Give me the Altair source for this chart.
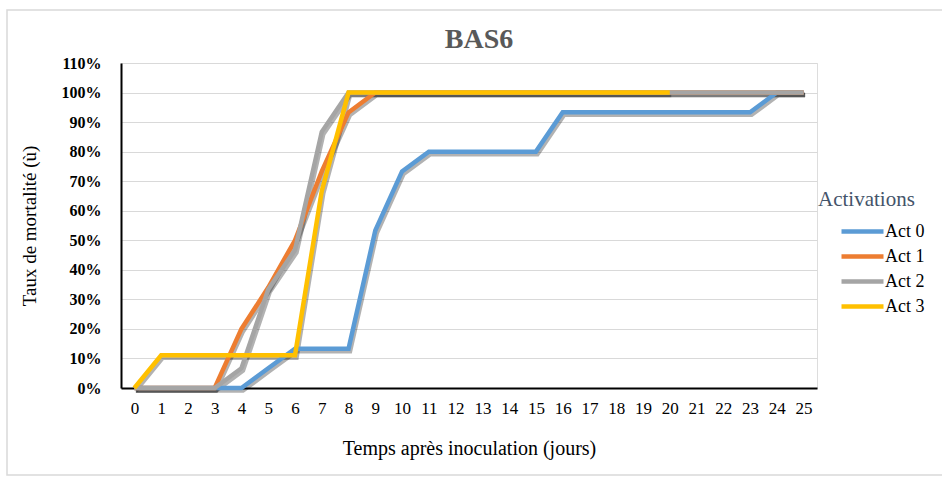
import altair as alt
import pandas as pd

days = list(range(26))
series_names = ["Act 0", "Act 1", "Act 2", "Act 3"]
act0 = [0, 0, 0, 0, 0, 0.067, 0.133, 0.133, 0.133, 0.533, 0.733, 0.8, 0.8, 0.8, 0.8, 0.8,
        0.933, 0.933, 0.933, 0.933, 0.933, 0.933, 0.933, 0.933, 1.0, 1.0]
act1 = [0, 0, 0, 0, 0.2, 0.34, 0.5, 0.733, 0.933] + [1.0] * 17
act2 = [0, 0, 0, 0, 0.067, 0.333, 0.467, 0.867] + [1.0] * 18
act3 = [0, 0.111, 0.111, 0.111, 0.111, 0.111, 0.111, 0.667] + [1.0] * 13
colors = ["#5B9BD5", "#ED7D31", "#A5A5A5", "#FFC000"]
y_ticks = [round(i * 0.1, 1) for i in range(12)]
chart_title = "BAS6"
legend_title = "Activations"

rows = []
for name, vals in zip(series_names, [act0, act1, act2, act3]):
    for d, v in zip(days, vals):
        rows.append({"day": d, "rate": v, "series": name})
df = pd.DataFrame(rows)

FONT = "Liberation Serif"
W, H = 696, 325
L, T = 121, 63

x_enc = alt.X("day:Q", scale=alt.Scale(domain=[-0.5, 25.5], nice=False, zero=False),
              axis=alt.Axis(values=days, title="Temps après inoculation (jours)", grid=False,
                            ticks=False, domain=True, domainColor="black", domainWidth=2,
                            labelFont=FONT, labelFontSize=17, labelColor="black", labelPadding=12,
                            titleFont=FONT, titleFontSize=20, titleFontWeight="normal",
                            titleColor="black", titlePadding=22, labelFlush=False))
y_enc = alt.Y("rate:Q", scale=alt.Scale(domain=[0, 1.1], nice=False),
              axis=alt.Axis(values=y_ticks, format=".0%", title="Taux de mortalité (ù)",
                            grid=True, gridColor="#D9D9D9", gridWidth=1.2, ticks=False,
                            domain=True, domainColor="black", domainWidth=2,
                            labelFont=FONT, labelFontSize=16, labelFontWeight="bold",
                            labelColor="black", labelPadding=20,
                            titleFont=FONT, titleFontSize=19, titleFontWeight="normal",
                            titleColor="black", titlePadding=22))

shadow = alt.Chart(df).mark_line(strokeWidth=4.5, color="black", opacity=0.3,
                                 xOffset=1.5, yOffset=2.5).encode(
    x=x_enc, y=y_enc, detail="series:N", order="day:Q")

lines = alt.Chart(df).mark_line(strokeWidth=4.5, strokeJoin="miter").encode(
    x=x_enc, y=y_enc,
    color=alt.Color("series:N", scale=alt.Scale(domain=series_names, range=colors),
                    legend=alt.Legend(title=None, orient="none", legendX=729, legendY=156,
                                      symbolType="M-2.1,0H2.1", symbolStrokeWidth=4.5,
                                      symbolSize=400, rowPadding=3, labelOffset=10,
                                      labelFont=FONT, labelFontSize=18, labelColor="black",
                                      padding=0)),
    order="day:Q")

frame_df = pd.DataFrame({"k": [0]})
frame = alt.Chart(frame_df).mark_rect(fill=None, stroke="#D9D9D9", strokeWidth=1.5, clip=False).encode(
    x=alt.value(7 - L), x2=alt.value(950 - L), y=alt.value(10 - T), y2=alt.value(475 - T))

leg_title = alt.Chart(pd.DataFrame({"t": [legend_title]})).mark_text(
    font=FONT, fontSize=21, color="#44546A", align="left", baseline="middle").encode(
    text="t:N", x=alt.value(818 - L), y=alt.value(200 - T))

title_txt = alt.Chart(pd.DataFrame({"t": [chart_title]})).mark_text(
    font=FONT, fontSize=28, fontWeight="bold", color="#595959", align="center",
    baseline="alphabetic").encode(
    text="t:N", x=alt.value(479 - L), y=alt.value(48 - T))

chart = alt.layer(frame, shadow, lines, leg_title, title_txt).properties(
    width=W, height=H,
    autosize=alt.AutoSizeParams(type="none"),
    padding={"left": L, "top": T, "right": 942 - L - W, "bottom": 477 - T - H},
).configure_view(stroke=None).configure(background="white")

chart.save("out.html", embed_options={"renderer": "svg", "actions": False})
